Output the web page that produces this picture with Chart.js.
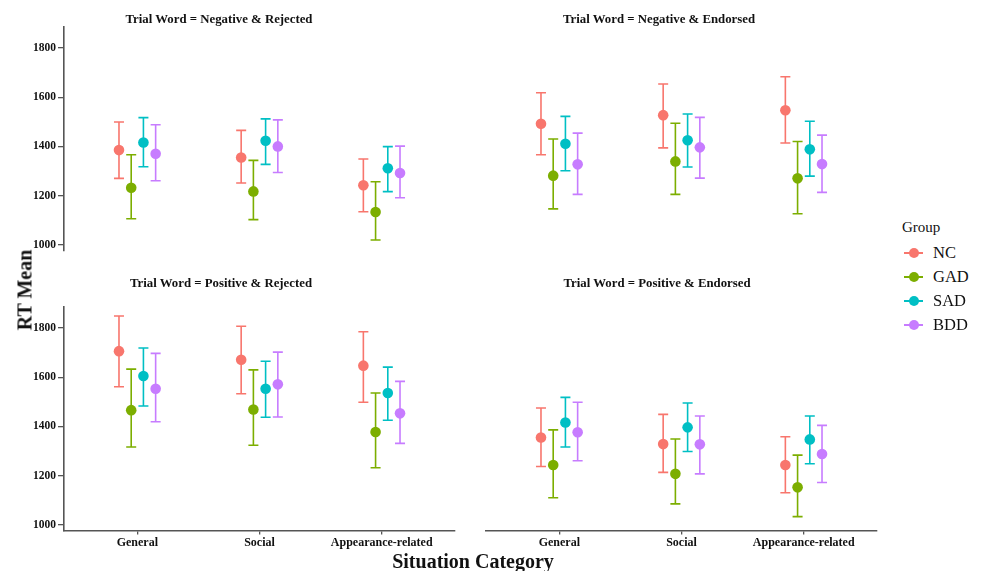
<!DOCTYPE html>
<html>
<head>
<meta charset="utf-8">
<script src="https://cdn.jsdelivr.net/npm/chart.js@4.4.0/dist/chart.umd.min.js"></script>
<style>
  body { margin: 0; background: #fff; }
  #page { position: relative; width: 984px; height: 571px; overflow: hidden; font-family: "Liberation Serif", "DejaVu Serif", serif; color: #111; }
  canvas { position: absolute; }
  .ptitle { position: absolute; font-weight: bold; font-size: 12.8px; transform: translate(-50%, -50%); white-space: nowrap; }
  .axtitle { position: absolute; font-weight: bold; font-size: 20px; transform: translate(-50%, -50%); white-space: nowrap; }
  .legend { position: absolute; left: 902px; top: 219px; }
  .legend .head { font-size: 15px; margin-bottom: 5px; }
  .legend .item { position: relative; height: 24px; font-size: 16.5px; line-height: 24px; padding-left: 31px; }
  .legend .line { position: absolute; left: 2px; top: 11px; width: 19px; height: 2px; }
  .legend .dot { position: absolute; left: 7px; top: 7px; width: 10px; height: 10px; border-radius: 50%; }
</style>
</head>
<body>
<div id="page">
  <canvas id="p0" width="470" height="262" style="left:0;top:0"></canvas>
  <canvas id="p1" width="410" height="262" style="left:476px;top:0"></canvas>
  <canvas id="p2" width="470" height="270" style="left:0;top:290px"></canvas>
  <canvas id="p3" width="410" height="270" style="left:476px;top:290px"></canvas>
  <div class="ptitle" style="left:219px;top:19px">Trial Word = Negative &amp; Rejected</div>
  <div class="ptitle" style="left:659px;top:19px">Trial Word = Negative &amp; Endorsed</div>
  <div class="ptitle" style="left:221px;top:283px">Trial Word = Positive &amp; Rejected</div>
  <div class="ptitle" style="left:657px;top:283px">Trial Word = Positive &amp; Endorsed</div>
  <div class="axtitle" style="left:25px;top:290px;transform:translate(-50%,-50%) rotate(-90deg)">RT Mean</div>
  <div class="axtitle" style="left:473px;top:561px">Situation Category</div>
  <div class="legend" id="legend"><div class="head">Group</div></div>
</div>
<script>
const categories = ['General', 'Social', 'Appearance-related'];
const groups = ['NC', 'GAD', 'SAD', 'BDD'];
const groupColors = ['#F8766D', '#7CAE00', '#00BFC4', '#C77CFF'];
const yTicks = [1000, 1200, 1400, 1600, 1800];

// rows = NC, GAD, SAD, BDD ; columns = General, Social, Appearance-related
const negRejMean  = [[1385, 1355, 1242], [1232, 1217, 1133], [1416, 1423, 1311], [1370, 1400, 1292]];
const negRejLower = [[1270, 1251, 1134], [1106, 1102, 1019], [1317, 1327, 1216], [1260, 1294, 1191]];
const negRejUpper = [[1499, 1465, 1349], [1366, 1343, 1256], [1517, 1512, 1399], [1488, 1508, 1401]];

const negEndMean  = [[1492, 1527, 1547], [1281, 1339, 1270], [1411, 1425, 1388], [1327, 1396, 1328]];
const negEndLower = [[1366, 1394, 1414], [1146, 1205, 1126], [1301, 1316, 1279], [1205, 1271, 1213]];
const negEndUpper = [[1618, 1654, 1683], [1430, 1494, 1420], [1522, 1532, 1502], [1454, 1518, 1446]];

const posRejMean  = [[1706, 1671, 1647], [1466, 1469, 1377], [1605, 1553, 1536], [1553, 1571, 1453]];
const posRejLower = [[1561, 1533, 1498], [1316, 1323, 1232], [1483, 1437, 1425], [1419, 1438, 1331]];
const posRejUpper = [[1849, 1807, 1785], [1633, 1630, 1536], [1719, 1665, 1641], [1697, 1702, 1583]];

const posEndMean  = [[1355, 1328, 1243], [1243, 1207, 1152], [1416, 1396, 1347], [1376, 1327, 1288]];
const posEndLower = [[1237, 1213, 1130], [1110, 1085, 1033], [1316, 1298, 1248], [1260, 1207, 1172]];
const posEndUpper = [[1475, 1449, 1358], [1386, 1349, 1283], [1518, 1495, 1442], [1498, 1442, 1404]];

// dodge position of each group around its category
const dodge = [-0.15, -0.05, 0.05, 0.15];

const axisColor = '#555';
const tickFont = { family: '"Liberation Serif", serif', weight: 'bold', size: 11.5 };

// error bars drawn from lo/hi through the chart's own scales
const errorBars = {
  id: 'errorBars',
  beforeDatasetsDraw(chart) {
    const { ctx, scales: { x, y } } = chart;
    ctx.save();
    chart.data.datasets.forEach(ds => {
      ctx.strokeStyle = ds.borderColor;
      ctx.lineWidth = 1.6;
      ds.data.forEach(p => {
        const px = x.getPixelForValue(p.x);
        const top = y.getPixelForValue(p.hi);
        const bot = y.getPixelForValue(p.lo);
        ctx.beginPath();
        ctx.moveTo(px, top); ctx.lineTo(px, bot);
        ctx.moveTo(px - 5, top); ctx.lineTo(px + 5, top);
        ctx.moveTo(px - 5, bot); ctx.lineTo(px + 5, bot);
        ctx.stroke();
      });
    });
    ctx.restore();
  }
};

function makePanel(id, mean, lower, upper, showX, showY, padding) {
  const datasets = groups.map((g, gi) => ({
    label: g,
    data: categories.map((c, ci) => ({
      x: ci + 1 + dodge[gi],
      y: mean[gi][ci],
      lo: lower[gi][ci],
      hi: upper[gi][ci]
    })),
    borderColor: groupColors[gi],
    backgroundColor: groupColors[gi],
    pointRadius: 5.3,
    pointBorderWidth: 0,
    showLine: false
  }));

  new Chart(document.getElementById(id), {
    type: 'scatter',
    data: { datasets: datasets },
    plugins: [errorBars],
    options: {
      responsive: false,
      animation: false,
      events: [],
      layout: { padding: padding, autoPadding: false },
      plugins: { legend: { display: false }, tooltip: { enabled: false } },
      scales: {
        x: {
          type: 'linear',
          min: 0.4,
          max: 3.6,
          display: showX,
          afterBuildTicks: s => { s.ticks = categories.map((c, i) => ({ value: i + 1 })); },
          afterFit: s => { if (showX) s.height = 29.6; },
          ticks: {
            callback: v => categories[v - 1],
            color: '#111',
            font: { family: '"Liberation Serif", serif', weight: 'bold', size: 12 },
            padding: 1,
            maxRotation: 0,
            autoSkip: false
          },
          grid: { display: true, drawOnChartArea: false, drawTicks: true, tickLength: 4, color: axisColor, lineWidth: 1.3 },
          border: { display: true, color: axisColor, width: 1.6 }
        },
        y: {
          min: 977,
          max: 1888,
          display: showY,
          afterBuildTicks: s => { s.ticks = yTicks.map(v => ({ value: v })); },
          afterFit: s => { if (showY) s.width = 64; },
          ticks: { callback: v => String(v), color: '#111', font: tickFont, padding: 2 },
          grid: { display: true, drawOnChartArea: false, drawTicks: true, tickLength: 6, color: axisColor, lineWidth: 1.3 },
          border: { display: true, color: axisColor, width: 1.6 }
        }
      }
    }
  });
}

makePanel('p0', negRejMean, negRejLower, negRejUpper, false, true, { top: 26.4, right: 15, bottom: 11.6, left: 0 });
makePanel('p1', negEndMean, negEndLower, negEndUpper, false, false, { top: 26.4, right: 9, bottom: 11.6, left: 10 });
makePanel('p2', posRejMean, posRejLower, posRejUpper, true, true, { top: 16.4, right: 15, bottom: 0, left: 0 });
makePanel('p3', posEndMean, posEndLower, posEndUpper, true, false, { top: 16.4, right: 9, bottom: 0, left: 10 });

// legend
const legend = document.getElementById('legend');
groups.forEach((g, i) => {
  const item = document.createElement('div');
  item.className = 'item';
  item.innerHTML = '<span class="line" style="background:' + groupColors[i] + '"></span>' +
    '<span class="dot" style="background:' + groupColors[i] + '"></span>' + g;
  legend.appendChild(item);
});
</script>
</body>
</html>
